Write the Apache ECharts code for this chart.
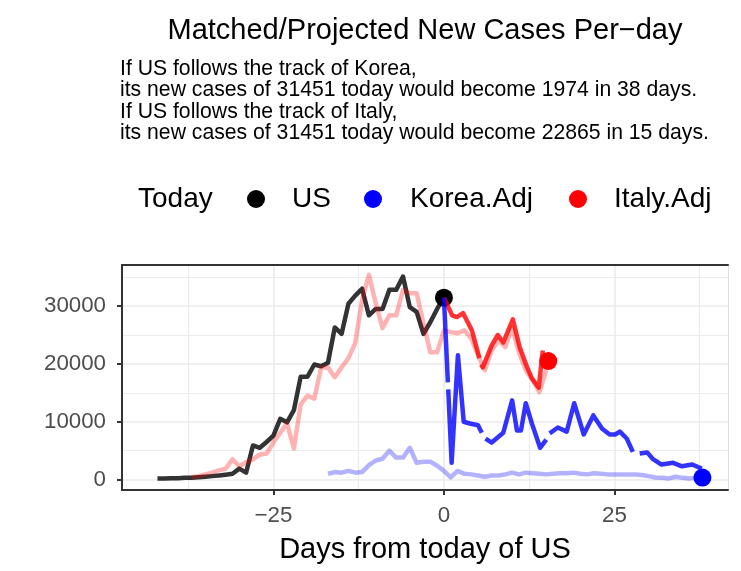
<!DOCTYPE html>
<html>
<head>
<meta charset="utf-8">
<script src="https://cdn.jsdelivr.net/npm/echarts@6/dist/echarts.min.js"></script>
<style>
  html, body { margin: 0; padding: 0; background: #fff; }
  #chart { width: 741px; height: 571px; }
</style>
</head>
<body>
<div id="chart"></div>
<script>
// US new cases, days relative to today
const usDays = [-42, -41, -40, -39, -38, -37, -36, -35, -34, -33, -32, -31, -30, -29, -28, -27, -26, -25, -24, -23, -22,
  -21, -20, -19, -18, -17, -16, -15, -14, -13, -12, -11, -10, -9, -8, -7, -6, -5, -4, -3, -2, -1, 0];
const usCases = [200, 200, 250, 250, 300, 300, 400, 500, 600, 700, 850, 1000, 1900, 1200, 5900, 5500, 6500, 7600, 10500, 9900, 12000,
  17800, 17800, 19900, 19600, 20200, 26300, 25200, 30400, 31800, 33000, 28400, 29500, 29500, 32800, 32800, 35100, 29800, 29000, 25200, 27200, 29500, 31451];

// Italy matched track (faint)
const italyDays = [-37, -36, -35, -34, -33, -32, -31, -30, -29, -28, -27, -26, -25, -24, -23, -22, -21, -20, -19, -18, -17, -16,
  -15, -14, -13, -12, -11, -10, -9, -8, -7, -6, -5, -4, -3, -2, -1, 0, 1, 2, 3, 4, 5, 6, 7, 8, 9, 10, 11, 12, 13, 14, 15];
const italyCases = [400, 600, 900, 1200, 1600, 1900, 3500, 2300, 3000, 3500, 4300, 4500, 6400, 8100, 9700, 5400, 13000, 14500, 14000, 19400, 19400, 17700,
  19400, 21000, 23600, 31000, 35400, 30500, 26200, 28400, 28400, 32800, 32200, 32200, 27000, 22000, 22000, 25800, 25500, 25300, 25800, 24400, 21500, 18900,
  22300, 24100, 22900, 26200, 22000, 18900, 17200, 15100, 18900];

// Korea matched track (faint)
const koreaDays = [-17, -16, -15, -14, -13, -12, -11, -10, -9, -8, -7, -6, -5, -4, -3, -2, -1, 0, 1, 2, 3, 4, 5, 6, 7, 8, 9, 10,
  11, 12, 13, 14, 15, 16, 17, 18, 19, 20, 21, 22, 23, 24, 25, 26, 27, 28, 29, 30, 31, 32, 33, 34, 35, 36, 37, 38];
const koreaCases = [1000, 1300, 1200, 1500, 1200, 1300, 2500, 3300, 3600, 5000, 3800, 3800, 5500, 2900, 3100, 3100, 2400, 1500, 400, 1500, 1000, 900,
  700, 500, 700, 700, 900, 1200, 900, 1200, 1100, 1000, 900, 1000, 1100, 1100, 1200, 1000, 900, 1100, 1000, 900, 900, 900, 900, 900, 800, 600,
  350, 300, 200, 500, 300, 200, 350, 350];

// projections from today (null = break in the line)
const italyProjDays = [0, 1.2, 1.9, 2.8, 4.1, 5.2, 5.3, 5.45, 5.7, 7.0, 7.9, 8.7, 10.1, 11.1, 12.2, 12.9, 13.9, 14.5];
const italyProjCases = [31451, 28400, 28100, 28800, 25800, 21000, null, 19900, 19400, 23200, 25000, 23700, 27700, 22900, 19400, 17500, 15900, 22300];

const koreaProjDays = [0, 0.58, 0.6, 0.63, 1.13, 2.05, 2.9, 3.8, 5.0, 5.55, 5.8, 6.1, 7.0, 8.7, 10.0, 10.7, 11.3, 12.0, 12.9, 14.1, 15.0, 15.2,
  15.5, 16.7, 18.0, 19.1, 20.5, 21.9, 23.2, 24.3, 25.1, 25.8, 26.8, 27.7, 28.2, 28.7, 29.8, 30.6, 31.9, 33.6, 34.9, 36.4, 37.8];
const koreaProjCases = [31451, 16800, null, 15600, 2900, 21500, 10000, 9700, 9400, 8100, null, 7100, 6400, 8100, 13700, 8500, 8500, 13200, 9700, 5500, 6900, null,
  8000, 9000, 8300, 13200, 7800, 11100, 8800, 7800, 7800, 8300, 7100, 4800, null, 4500, 4700, 3600, 2600, 2900, 2300, 2600, 1900];

// "Today" markers
const todayNames = ['US', 'Korea.Adj', 'Italy.Adj'];
const todayDays = [0, 37.9, 15.3];
const todayCases = [31451, 350, 20500];
const todayColors = ['#000000', '#0000ff', '#ff0000'];

const xMajor = [-25, 0, 25];
const xMinor = [-37.5, -12.5, 12.5, 37.5];
const yMajor = [0, 10000, 20000, 30000];
const yMinor = [5000, 15000, 25000, 35000];

const subtitleLines = [
  'If US follows the track of Korea,',
  'its new cases of 31451 today would become 1974 in 38 days.',
  'If US follows the track of Italy,',
  'its new cases of 31451 today would become 22865 in 15 days.'
];

const FONT = '"Liberation Sans", Arial, Helvetica, sans-serif';

// legend key: dot centre x and label x for each entry
const keyDotX = [256, 373, 578];
const keyTextX = [292, 410, 614];
const keyY = 199;

function pairs(xs, ys) {
  return xs.map((x, i) => [x, ys[i] == null ? '-' : ys[i]]);
}

function lineSeries(name, xs, ys, color) {
  return {
    name: name,
    type: 'line',
    data: pairs(xs, ys),
    showSymbol: false,
    symbol: 'none',
    connectNulls: false,
    silent: true,
    lineStyle: { color: color, width: 4.5, cap: 'butt', join: 'round' },
    emphasis: { disabled: true }
  };
}

function dotSeries(i) {
  return {
    name: todayNames[i],
    type: 'scatter',
    data: [[todayDays[i], todayCases[i]]],
    symbol: 'circle',
    symbolSize: 18,
    silent: true,
    itemStyle: { color: todayColors[i], opacity: 1 },
    emphasis: { disabled: true }
  };
}

// legend drawn by hand so the spacing follows the original
const legendGraphics = [{
  type: 'text', x: 138, y: keyY, silent: true,
  style: { text: 'Today', fontSize: 28, fontFamily: FONT, fill: '#000', align: 'left', verticalAlign: 'middle' }
}];
todayNames.forEach((name, i) => {
  legendGraphics.push({
    type: 'circle', silent: true,
    shape: { cx: keyDotX[i], cy: keyY, r: 9 },
    style: { fill: todayColors[i] }
  });
  legendGraphics.push({
    type: 'text', x: keyTextX[i], y: keyY, silent: true,
    style: { text: name, fontSize: 28, fontFamily: FONT, fill: '#000', align: 'left', verticalAlign: 'middle' }
  });
});

const minorAxisX = {
  type: 'value', min: -47.2, max: 41.65, position: 'bottom',
  axisLine: { show: false }, axisLabel: { show: false },
  axisTick: { show: false, customValues: xMinor },
  splitLine: { show: true, lineStyle: { color: '#ebebeb', width: 1.2 } }
};
const minorAxisY = {
  type: 'value', min: -1800, max: 37100, position: 'left',
  axisLine: { show: false }, axisLabel: { show: false },
  axisTick: { show: false, customValues: yMinor },
  splitLine: { show: true, lineStyle: { color: '#ebebeb', width: 1.2 } }
};

const chart = echarts.init(document.getElementById('chart'), null, { renderer: 'canvas' });

chart.setOption({
  animation: false,
  backgroundColor: '#ffffff',
  textStyle: { fontFamily: FONT },
  grid: { left: 122, right: 13, top: 265, bottom: 81, containLabel: false },
  graphic: [
    {
      type: 'text', x: 425, y: 31, silent: true,
      style: { text: 'Matched/Projected New Cases Per\u2212day', fontSize: 29, fontFamily: FONT, fill: '#000', align: 'center', verticalAlign: 'middle' }
    },
    {
      type: 'text', x: 120, y: 58.3, silent: true,
      style: { text: subtitleLines.join('\n'), fontSize: 21.2, lineHeight: 21.4, fontFamily: FONT, fill: '#000', align: 'left', verticalAlign: 'top' }
    }
  ].concat(legendGraphics),
  xAxis: [
    {
      type: 'value', min: -47.2, max: 41.65, position: 'bottom',
      name: 'Days from today of US', nameLocation: 'middle', nameGap: 45,
      nameTextStyle: { fontSize: 29, color: '#000', fontFamily: FONT },
      axisLine: { show: true, onZero: false, lineStyle: { color: '#333333', width: 2 } },
      axisTick: { show: true, length: 5, customValues: xMajor, lineStyle: { color: '#333333', width: 2 } },
      axisLabel: {
        customValues: xMajor, fontSize: 22.3, color: '#4d4d4d', margin: 15, fontFamily: FONT,
        formatter: v => (v < 0 ? '\u2212' + Math.abs(v) : String(v))
      },
      splitLine: { show: true, lineStyle: { color: '#ebebeb', width: 1.6 } }
    },
    minorAxisX,
    {
      type: 'value', min: -47.2, max: 41.65, position: 'top',
      axisLine: { show: true, onZero: false, lineStyle: { color: '#333333', width: 2 } },
      axisTick: { show: false }, axisLabel: { show: false }, splitLine: { show: false }
    }
  ],
  yAxis: [
    {
      type: 'value', min: -1800, max: 37100, position: 'left',
      axisLine: { show: true, onZero: false, lineStyle: { color: '#333333', width: 2 } },
      axisTick: { show: true, length: 5, customValues: yMajor, lineStyle: { color: '#333333', width: 2 } },
      axisLabel: { customValues: yMajor, fontSize: 22.3, color: '#4d4d4d', margin: 16, fontFamily: FONT, formatter: v => String(v) },
      splitLine: { show: true, lineStyle: { color: '#ebebeb', width: 1.6 } }
    },
    minorAxisY,
    {
      type: 'value', min: -1800, max: 37100, position: 'right',
      axisLine: { show: true, onZero: false, lineStyle: { color: '#e0e0e0', width: 1 } },
      axisTick: { show: false }, axisLabel: { show: false }, splitLine: { show: false }
    }
  ],
  series: [
    lineSeries('US line', usDays, usCases, 'rgba(0,0,0,0.8)'),
    dotSeries(0),
    lineSeries('Italy track', italyDays, italyCases, 'rgba(255,0,0,0.3)'),
    lineSeries('Korea track', koreaDays, koreaCases, 'rgba(0,0,255,0.3)'),
    lineSeries('Italy projection', italyProjDays, italyProjCases, 'rgba(255,0,0,0.8)'),
    lineSeries('Korea projection', koreaProjDays, koreaProjCases, 'rgba(0,0,255,0.8)'),
    dotSeries(2),
    dotSeries(1)
  ]
});
</script>
</body>
</html>
